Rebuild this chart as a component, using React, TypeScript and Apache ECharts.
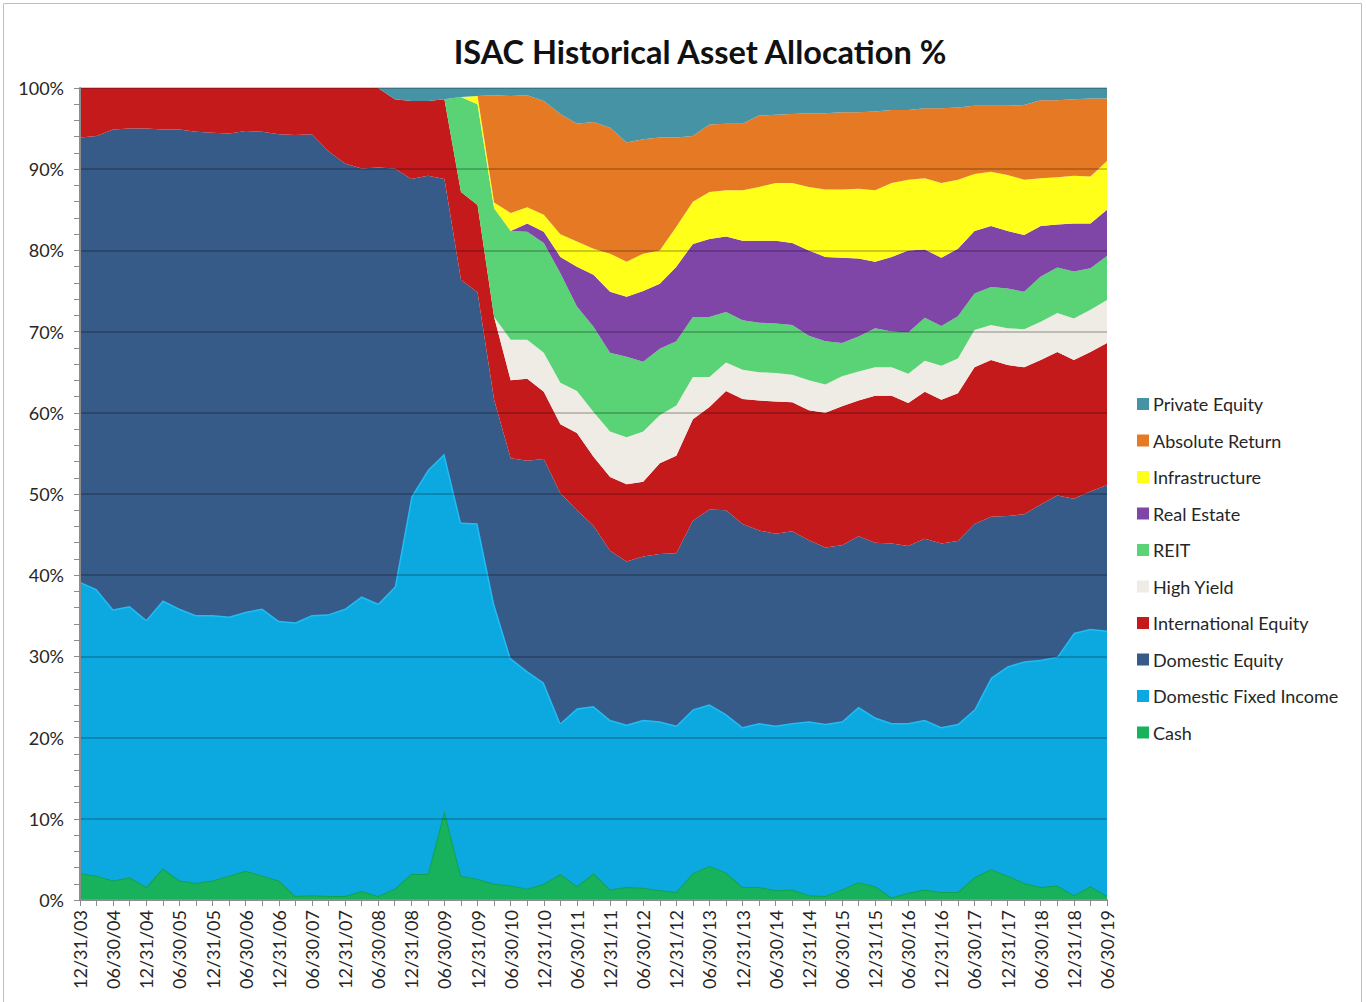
import React, { useEffect, useRef } from "react";
import * as echarts from "echarts";

const quarters = [
  "12/31/03",
  "03/31/04", "06/30/04", "09/30/04", "12/31/04",
  "03/31/05", "06/30/05", "09/30/05", "12/31/05",
  "03/31/06", "06/30/06", "09/30/06", "12/31/06",
  "03/31/07", "06/30/07", "09/30/07", "12/31/07",
  "03/31/08", "06/30/08", "09/30/08", "12/31/08",
  "03/31/09", "06/30/09", "09/30/09", "12/31/09",
  "03/31/10", "06/30/10", "09/30/10", "12/31/10",
  "03/31/11", "06/30/11", "09/30/11", "12/31/11",
  "03/31/12", "06/30/12", "09/30/12", "12/31/12",
  "03/31/13", "06/30/13", "09/30/13", "12/31/13",
  "03/31/14", "06/30/14", "09/30/14", "12/31/14",
  "03/31/15", "06/30/15", "09/30/15", "12/31/15",
  "03/31/16", "06/30/16", "09/30/16", "12/31/16",
  "03/31/17", "06/30/17", "09/30/17", "12/31/17",
  "03/31/18", "06/30/18", "09/30/18", "12/31/18",
  "03/31/19", "06/30/19",
];

const cash = [
  3.3, 3.0, 2.4, 2.8, 1.6, 3.9, 2.4, 2.1, 2.4, 3.0,
  3.6, 3.0, 2.4, 0.5, 0.6, 0.5, 0.5, 1.1, 0.5, 1.4,
  3.2, 3.2, 11.0, 3.0, 2.6, 2.0, 1.8, 1.4, 2.0, 3.2,
  1.7, 3.3, 1.3, 1.6, 1.5, 1.2, 1.0, 3.3, 4.2, 3.4,
  1.6, 1.6, 1.2, 1.3, 0.6, 0.5, 1.3, 2.2, 1.7, 0.3,
  0.9, 1.3, 1.0, 1.0, 2.8, 3.8, 3.0, 2.1, 1.6, 1.8,
  0.6, 1.7, 0.5,
];

const domesticFixedIncome = [
  35.9, 35.3, 33.4, 33.4, 32.9, 33.0, 33.5, 33.0, 32.7, 31.9,
  31.9, 32.9, 32.0, 33.7, 34.5, 34.7, 35.4, 36.3, 36.0, 37.2,
  46.5, 49.8, 44.0, 43.5, 43.8, 34.5, 28.0, 26.8, 24.8, 18.6,
  21.9, 20.6, 20.9, 20.0, 20.7, 20.8, 20.5, 20.2, 19.9, 19.5,
  19.7, 20.2, 20.3, 20.5, 21.4, 21.2, 20.7, 21.6, 20.8, 21.5,
  20.9, 20.9, 20.3, 20.7, 20.7, 23.6, 25.8, 27.3, 28.0, 28.2,
  32.3, 31.7, 32.7,
];

const domesticEquity = [
  54.7, 55.8, 59.1, 58.8, 60.5, 58.0, 59.0, 59.5, 59.4, 59.5,
  59.2, 58.7, 59.9, 60.0, 59.2, 57.0, 54.8, 52.7, 53.7, 51.5,
  39.1, 36.2, 33.8, 29.9, 28.4, 25.1, 24.6, 25.9, 27.5, 28.3,
  24.4, 22.2, 20.8, 20.1, 20.1, 20.6, 21.2, 23.2, 24.0, 25.1,
  25.0, 23.7, 23.6, 23.6, 22.3, 21.7, 21.7, 21.0, 21.5, 22.1,
  21.8, 22.3, 22.6, 22.5, 22.8, 19.8, 18.5, 18.1, 19.1, 19.8,
  16.5, 16.9, 17.9,
];

const internationalEquity = [
  6.1, 5.9, 5.1, 5.0, 5.0, 5.1, 5.1, 5.4, 5.5, 5.6,
  5.3, 5.4, 5.7, 5.8, 5.7, 7.8, 9.3, 9.9, 9.8, 8.5,
  9.6, 9.2, 9.8, 10.8, 10.8, 10.2, 9.6, 10.1, 8.3, 8.5,
  9.5, 8.5, 9.1, 9.5, 9.2, 11.2, 12.0, 12.5, 12.6, 14.7,
  15.4, 16.0, 16.3, 15.9, 16.0, 16.6, 17.1, 16.7, 18.1, 18.2,
  17.6, 18.1, 17.7, 18.2, 19.3, 19.3, 18.6, 18.1, 17.8, 17.7,
  17.1, 17.2, 17.5,
];

const highYield = [
  0, 0, 0, 0, 0, 0, 0, 0, 0, 0,
  0, 0, 0, 0, 0, 0, 0, 0, 0, 0,
  0, 0, 0, 0, 0, 0, 5.0, 4.8, 4.8, 5.1,
  5.2, 5.5, 5.6, 5.8, 6.2, 5.9, 6.2, 5.2, 3.7, 3.5,
  3.6, 3.5, 3.5, 3.4, 3.7, 3.5, 3.7, 3.6, 3.5, 3.5,
  3.6, 3.8, 4.2, 4.3, 4.6, 4.3, 4.5, 4.7, 4.7, 4.8,
  5.1, 5.2, 5.3,
];

const reit = [
  0, 0, 0, 0, 0, 0, 0, 0, 0, 0,
  0, 0, 0, 0, 0, 0, 0, 0, 0, 0,
  0, 0, 0, 11.7, 12.4, 13.4, 13.4, 13.3, 13.5, 13.5,
  10.4, 10.5, 9.7, 9.9, 8.6, 8.2, 7.9, 7.4, 7.4, 6.2,
  6.1, 6.1, 6.1, 6.1, 5.5, 5.3, 4.1, 4.3, 4.8, 4.4,
  5.1, 5.3, 4.9, 5.2, 4.5, 4.7, 4.9, 4.6, 5.6, 5.6,
  5.8, 5.1, 5.4,
];

const realEstate = [
  0, 0, 0, 0, 0, 0, 0, 0, 0, 0,
  0, 0, 0, 0, 0, 0, 0, 0, 0, 0,
  0, 0, 0, 0, 0, 0, 0, 1.0, 1.4, 2.0,
  4.9, 6.4, 7.5, 7.4, 8.7, 8.0, 9.2, 9.0, 9.6, 9.3,
  9.8, 10.1, 10.2, 10.1, 10.5, 10.4, 10.5, 9.6, 8.2, 9.2,
  10.1, 8.4, 8.4, 8.3, 7.7, 7.5, 7.1, 7.0, 6.2, 5.3,
  5.9, 5.5, 5.7,
];

const infrastructure = [
  0, 0, 0, 0, 0, 0, 0, 0, 0, 0,
  0, 0, 0, 0, 0, 0, 0, 0, 0, 0,
  0, 0, 0, 0, 1.0, 0.7, 2.2, 2.0, 2.1, 2.8,
  3.1, 3.2, 4.7, 4.3, 4.6, 4.1, 4.9, 5.2, 5.8, 5.7,
  6.2, 6.6, 7.1, 7.4, 7.8, 8.3, 8.4, 8.6, 8.8, 9.1,
  8.7, 8.8, 9.2, 8.5, 7.0, 6.7, 6.9, 6.8, 5.9, 5.8,
  5.9, 5.8, 6.0,
];

const absoluteReturn = [
  0, 0, 0, 0, 0, 0, 0, 0, 0, 0,
  0, 0, 0, 0, 0, 0, 0, 0, 0, 0,
  0, 0, 0, 0, 0, 13.2, 14.4, 13.8, 14.0, 14.8,
  14.5, 15.6, 15.5, 14.7, 14.1, 13.9, 11.0, 8.1, 8.3, 8.2,
  8.2, 8.8, 8.4, 8.5, 9.1, 9.4, 9.5, 9.4, 9.7, 9.0,
  8.6, 8.6, 9.2, 8.9, 8.4, 8.1, 8.5, 9.2, 9.6, 9.5,
  9.4, 9.6, 7.7,
];

const privateEquity = [
  0, 0, 0, 0, 0, 0, 0, 0, 0, 0,
  0, 0, 0, 0, 0, 0, 0, 0, 0, 1.4,
  1.6, 1.6, 1.4, 1.1, 1.0, 0.9, 1.0, 0.9, 1.6, 3.2,
  4.4, 4.2, 4.9, 6.7, 6.3, 6.1, 6.1, 5.9, 4.5, 4.4,
  4.4, 3.4, 3.3, 3.2, 3.1, 3.1, 3.0, 3.0, 2.9, 2.7,
  2.7, 2.5, 2.5, 2.4, 2.2, 2.2, 2.2, 2.1, 1.5, 1.5,
  1.4, 1.3, 1.3,
];

const seriesNames = [
  "Cash",
  "Domestic Fixed Income",
  "Domestic Equity",
  "International Equity",
  "High Yield",
  "REIT",
  "Real Estate",
  "Infrastructure",
  "Absolute Return",
  "Private Equity",
];
const seriesData = [
  cash,
  domesticFixedIncome,
  domesticEquity,
  internationalEquity,
  highYield,
  reit,
  realEstate,
  infrastructure,
  absoluteReturn,
  privateEquity,
];
const seriesColors = [
  "#17b25b",
  "#0ca9e0",
  "#375b89",
  "#c41a1c",
  "#eeece4",
  "#5ad276",
  "#7f46a8",
  "#ffff1a",
  "#e67a24",
  "#4793a6",
];
const edgeColors = [
  "#12a152",
  "#22bcf4",
  "#375b89",
  "#c41a1c",
  "#eeece4",
  "#5ad276",
  "#7f46a8",
  "#ffff1a",
  "#e67a24",
  "#4793a6",
];
const edgeWidths = [2, 3, 0, 0, 0, 0, 0, 0, 0, 0];

const FONT = "Lato, 'Open Sans', sans-serif";

export default function App() {
  const ref = useRef<HTMLDivElement>(null);

  useEffect(() => {
    const chart = echarts.init(ref.current!, null, { renderer: "svg" });

    const series = seriesNames.map((name, i) => ({
      name,
      type: "line",
      stack: "total",
      data: seriesData[i],
      symbol: "none",
      showSymbol: false,
      z: 2 + i * 0.01,
      itemStyle: { color: seriesColors[i] },
      lineStyle: { color: edgeColors[i], width: edgeWidths[i] },
      areaStyle: { color: seriesColors[i], opacity: 1 },
      emphasis: { disabled: true },
    }));

    const legendOrder = [...seriesNames].reverse();

    chart.setOption({
      animation: false,
      backgroundColor: "#ffffff",
      grid: { left: 80, right: 259, top: 88, bottom: 102, containLabel: false },
      graphic: [
        {
          type: "rect",
          shape: { x: 3.5, y: 3.5, width: 1358, height: 1010 },
          style: { fill: "none", stroke: "#c0c0c0", lineWidth: 1 },
          silent: true,
        },
        {
          type: "text",
          x: 700,
          y: 51,
          style: {
            text: "ISAC Historical Asset Allocation %",
            font: `bold 32.5px ${FONT}`,
            fill: "#111111",
            textAlign: "center",
            textVerticalAlign: "middle",
          },
          silent: true,
        },
      ],
      legend: {
        orient: "vertical",
        left: 1137,
        top: 395,
        padding: 0,
        icon: "rect",
        itemWidth: 12,
        itemHeight: 12,
        itemGap: 18.5,
        selectedMode: false,
        textStyle: { fontFamily: FONT, fontSize: 18, color: "#262626", padding: [0, 0, 0, -1] },
        data: legendOrder.map((n) => ({
          name: n,
          itemStyle: { color: seriesColors[seriesNames.indexOf(n)] },
        })),
      },
      xAxis: {
        type: "category",
        data: quarters,
        boundaryGap: false,
        z: 5,
        axisLine: { show: true, lineStyle: { color: "#8c8c8c", width: 2 } },
        axisTick: {
          show: true,
          interval: 0,
          length: 6,
          lineStyle: { color: "#8c8c8c", width: 1 },
        },
        axisLabel: {
          interval: 1,
          rotate: 90,
          margin: 10,
          fontFamily: FONT,
          fontSize: 18,
          color: "#262626",
        },
        splitLine: { show: false },
      },
      yAxis: {
        type: "value",
        min: 0,
        max: 100,
        interval: 10,
        z: 5,
        axisLine: { show: true, lineStyle: { color: "#8c8c8c", width: 2 } },
        axisTick: { show: true, length: 6, lineStyle: { color: "#8c8c8c" } },
        minorTick: {
          show: true,
          splitNumber: 5,
          length: 6,
          lineStyle: { color: "#8c8c8c" },
        },
        axisLabel: {
          formatter: "{value}%",
          margin: 16,
          fontFamily: FONT,
          fontSize: 18,
          color: "#262626",
        },
        splitLine: {
          show: true,
          lineStyle: { color: "rgba(0,0,0,0.28)", width: 1.5 },
        },
      },
      series,
    });

    return () => chart.dispose();
  }, []);

  return (
    <div
      ref={ref}
      style={{
        position: "fixed",
        left: 0,
        top: 0,
        width: 1366,
        height: 1002,
        background: "#ffffff",
      }}
    />
  );
}
